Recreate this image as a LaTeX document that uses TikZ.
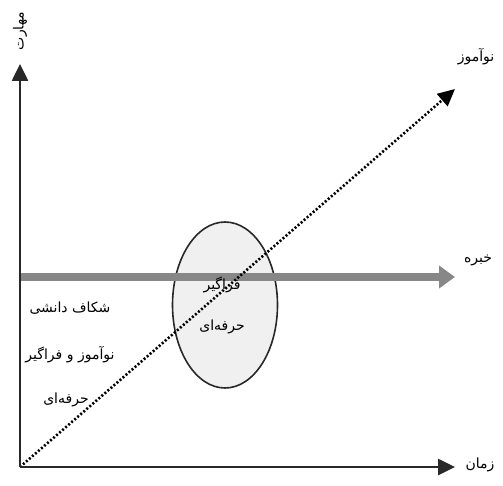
\documentclass[tikz,border=0pt]{standalone}
\usepackage{fontspec}
\newfontfamily\arabicfont[Script=Arabic]{DejaVu Sans}
\TeXXeTstate=1
\usepackage{xcolor}
\usepackage{tikz}
\usetikzlibrary{arrows.meta,positioning,shapes.geometric}

\definecolor{axisgray}{RGB}{40,40,40}
\definecolor{linegray}{RGB}{135,135,135}

\tikzset{
  fa/.style={font=\arabicfont\fontsize{14}{16}\selectfont, inner sep=1pt},
  axisline/.style={draw=axisgray, line width=2.6pt, -{Triangle[length=17pt,width=16pt]}},
}

\begin{document}
\begin{tikzpicture}[x=1pt,y=-1pt]
  \useasboundingbox (0,0) rectangle (503,486);

  \node[ellipse,draw=axisgray,line width=1.6pt,fill=gray!12,minimum width=105pt,minimum height=166pt] (circ) at (225,305) {};

  \coordinate (O) at (20,467);
  \coordinate (Y) at (20,64);
  \coordinate (X) at (455,467);
  \coordinate (G0) at (20,277);
  \coordinate (G) at (455,277);
  \coordinate (D) at (455,89);

  \draw[draw=linegray, line width=7pt, -{Triangle[length=16pt,width=22pt]}] (G0) -- (G);
  \draw[draw=black, line width=2.6pt, dash pattern=on 2pt off 2pt, -{Triangle[length=17pt,width=16pt]}] (O) -- (D);
  \draw[axisline] (O) -- (Y);
  \draw[axisline] (O) -- (X);

  \node[fa, rotate=90] (skill) at (20,31) {\beginR مهارت\endR};
  \node[fa] (novice) at (476,57) {\beginR نوآموز\endR};
  \node[fa] (expert) at (478,260) {\beginR خبره\endR};
  \node[fa] (time) at (480,465) {\beginR زمان\endR};

  \node[fa] (gap1) at (70,308) {\beginR شکاف دانشی\endR};
  \node[fa] (gap2) at (70,355) {\beginR نوآموز و فراگیر\endR};
  \node[fa] (gap3) at (66,400) {\beginR حرفه‌ای\endR};

  \node[fa] (learn1) at (222,285) {\beginR فراگیر\endR};
  \node[fa] (learn2) at (222,327) {\beginR حرفه‌ای\endR};
\end{tikzpicture}
\end{document}
